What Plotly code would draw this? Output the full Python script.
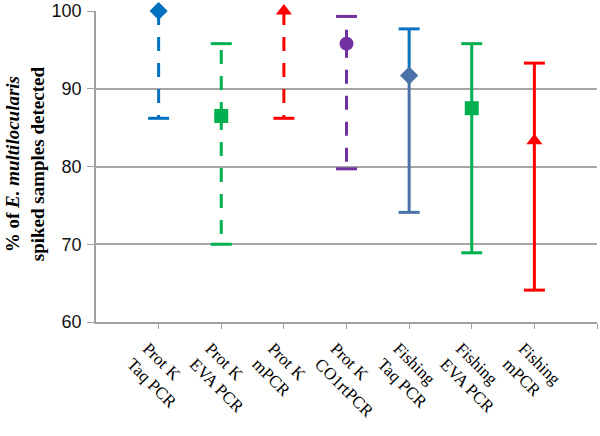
import plotly.graph_objects as go

categories = ["Prot K<br>Taq PCR", "Prot K<br>EVA PCR", "Prot K<br>mPCR", "Prot K<br>CO1rtPCR",
              "Fishing<br>Taq PCR", "Fishing<br>EVA PCR", "Fishing<br>mPCR"]
detected = [100, 86.5, 100, 95.8, 91.7, 87.5, 83.3]
upper = [100, 95.8, 100, 99.3, 97.7, 95.8, 93.3]
lower = [86.2, 70.0, 86.2, 79.7, 74.1, 68.9, 64.1]
colors = ["#0070C0", "#00B050", "#FF0000", "#7030A0", "#4A72A8", "#00B050", "#FF0000"]
upper_colors = ["#0070C0", "#00B050", "#FF0000", "#7030A0", "#0B72C2", "#00B050", "#FF0000"]
symbols = ["diamond", "square", "triangle-up", "circle", "diamond", "square", "triangle-up"]
dashes = ["14px,12px"] * 4 + ["solid"] * 3

fig = go.Figure()
for i, cat in enumerate(categories):
    if upper[i] > detected[i]:
        fig.add_trace(go.Scatter(x=[i, i], y=[detected[i], upper[i]], mode="lines",
                                 line=dict(color=upper_colors[i], width=3, dash=dashes[i]),
                                 showlegend=False, hoverinfo="skip", cliponaxis=False))
        fig.add_trace(go.Scatter(x=[i], y=[upper[i]], mode="markers",
                                 marker=dict(symbol="line-ew", size=15,
                                             line=dict(color=upper_colors[i], width=3)),
                                 showlegend=False, hoverinfo="skip", cliponaxis=False))
    fig.add_trace(go.Scatter(x=[i, i], y=[detected[i], lower[i]], mode="lines",
                             line=dict(color=colors[i], width=3, dash=dashes[i]),
                             showlegend=False, hoverinfo="skip", cliponaxis=False))
    fig.add_trace(go.Scatter(x=[i], y=[lower[i]], mode="markers",
                             marker=dict(symbol="line-ew", size=15,
                                         line=dict(color=colors[i], width=3)),
                             showlegend=False, hoverinfo="skip", cliponaxis=False))
    fig.add_trace(go.Scatter(x=[i], y=[detected[i]], mode="markers",
                             marker=dict(symbol=symbols[i], size=14, color=colors[i],
                                         line=dict(width=0)),
                             showlegend=False, name=cat.replace("<br>", " "),
                             cliponaxis=False))

fig.add_annotation(text="<b>% of <i>E. multilocularis</i><br>spiked samples detected</b>",
                   xref="paper", yref="paper", x=-0.14, y=0.51, textangle=-90,
                   showarrow=False, xanchor="center", yanchor="middle",
                   font=dict(family="Liberation Serif", size=19, color="#000000"))

fig.update_layout(
    width=600, height=436,
    margin=dict(l=96, r=3, t=11, b=114),
    plot_bgcolor="white", paper_bgcolor="white",
    xaxis=dict(range=[-1, 7], tickvals=list(range(len(categories) + 1)),
               ticktext=categories + [""], tickangle=45, automargin=False,
               ticks="outside", ticklen=5, tickcolor="#A0A0A0", tickwidth=1,
               ticklabelshift=-11, ticklabelstandoff=3,
               showline=True, linecolor="#A0A0A0", linewidth=1.5,
               showgrid=False, zeroline=False,
               tickfont=dict(family="Liberation Serif", size=17, color="#000000")),
    yaxis=dict(range=[60, 100], tickvals=[60, 70, 80, 90, 100], automargin=False,
               ticks="outside", ticklen=7, tickcolor="#A0A0A0", tickwidth=1,
               ticklabelstandoff=2,
               showline=True, linecolor="#A0A0A0", linewidth=1.5,
               showgrid=True, gridcolor="#A6A6A6", gridwidth=1.5, zeroline=False,
               tickfont=dict(family="Liberation Sans", size=18, color="#111111")),
)

fig.write_html("out.html", config={"displayModeBar": False},
               post_script="document.body.style.margin='0';")
